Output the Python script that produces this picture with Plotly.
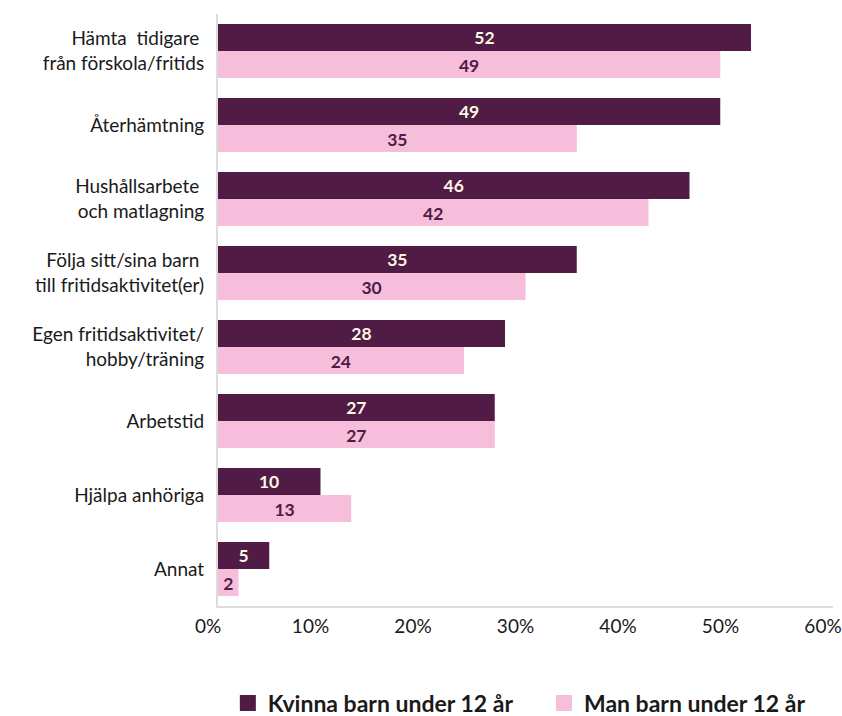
import plotly.graph_objects as go

categories = [
    "Hämta\u00a0 tidigare\u00a0<br>från förskola/fritids",
    "Återhämtning",
    "Hushållsarbete\u00a0<br>och matlagning",
    "Följa sitt/sina barn\u00a0<br>till fritidsaktivitet(er)",
    "Egen fritidsaktivitet/<br>hobby/träning",
    "Arbetstid",
    "Hjälpa anhöriga",
    "Annat",
]
kvinna = [52, 49, 46, 35, 28, 27, 10, 5]
man = [49, 35, 42, 30, 24, 27, 13, 2]
series_names = ["Kvinna barn under 12 år", "Man barn under 12 år"]
tick_vals = [0, 10, 20, 30, 40, 50, 60]
tick_text = ["0%", "10%", "20%", "30%", "40%", "50%", "60%"]

dark = "#501b45"
pink = "#f6bedb"
font_family = "Lato, 'Open Sans', sans-serif"

fig = go.Figure()
fig.add_trace(go.Bar(
    y=categories, x=kvinna, orientation="h", name=series_names[0],
    marker=dict(color=dark, line=dict(width=0)),
    text=[str(v) for v in kvinna], textposition="inside", insidetextanchor="middle",
    textangle=0,
    textfont=dict(family=font_family, size=20, color="#fdf7e3", weight="bold"),
    showlegend=False, hoverinfo="skip",
))
fig.add_trace(go.Bar(
    y=categories, x=man, orientation="h", name=series_names[1],
    marker=dict(color=pink, line=dict(width=0)),
    text=[str(v) for v in man], textposition="inside", insidetextanchor="middle",
    textangle=0,
    textfont=dict(family=font_family, size=20, color=dark, weight="bold"),
    showlegend=False, hoverinfo="skip",
))
# legend entries with larger square symbols, each in its own legend box
for nm, col, lg in zip(series_names, [dark, pink], ["legend", "legend2"]):
    fig.add_trace(go.Scatter(
        x=[None], y=[None], mode="markers", name=nm,
        marker=dict(symbol="square", size=21, color=col),
        showlegend=True, legend=lg,
    ))

legend_style = dict(
    orientation="h", xanchor="left", y=-0.164, yanchor="middle",
    font=dict(size=23, color="#1a1a1a", weight="bold"),
    itemsizing="trace", itemwidth=30, bgcolor="rgba(0,0,0,0)",
)

fig.update_layout(
    width=842, height=716,
    margin=dict(l=218, r=9, t=14, b=110, autoexpand=False),
    paper_bgcolor="white", plot_bgcolor="white",
    barmode="group", bargap=0.27, bargroupgap=0,
    font=dict(family=font_family, size=19, color="#222222"),
    uniformtext=dict(minsize=10, mode="show"),
    legend=dict(x=0.016, **legend_style),
    legend2=dict(x=0.530, **legend_style),
    xaxis=dict(
        range=[0, 60], tickvals=tick_vals, ticktext=tick_text,
        showgrid=False, zeroline=False, showline=True, linecolor="#dcdcdc", linewidth=2,
        ticks="", ticklabelshift=-10, ticklabelstandoff=2, automargin=False,
        tickfont=dict(size=19, color="#1a1a1a"), fixedrange=True,
    ),
    yaxis=dict(
        categoryorder="array", categoryarray=categories, autorange="reversed",
        showgrid=False, zeroline=False, showline=True, linecolor="#dcdcdc", linewidth=2,
        ticks="", ticklabelstandoff=8, automargin=False,
        tickfont=dict(size=19, color="#1a1a1a"), fixedrange=True,
    ),
)

fig.write_html("out.html")
